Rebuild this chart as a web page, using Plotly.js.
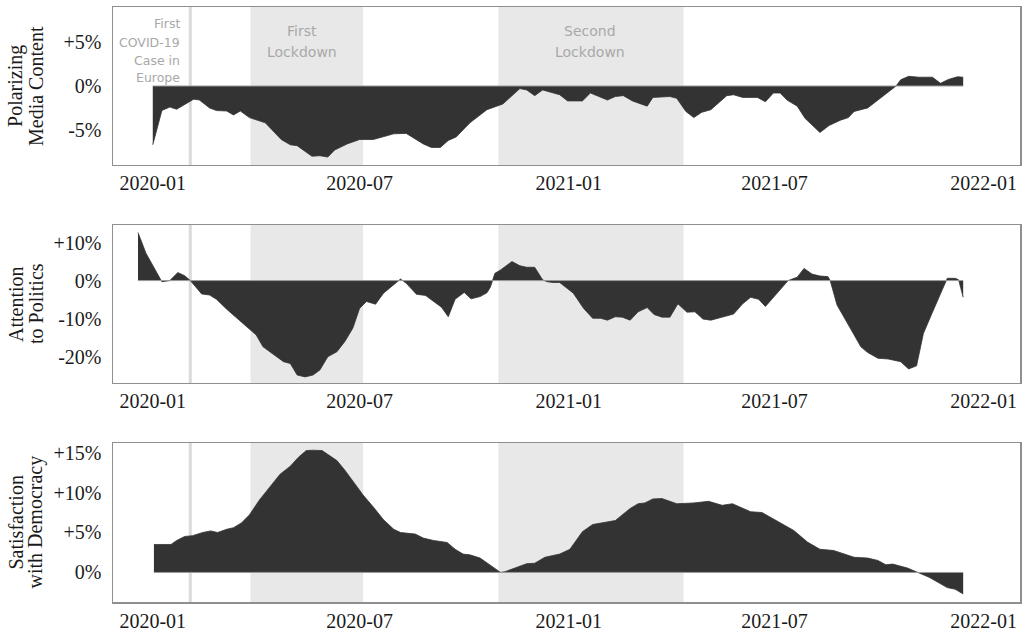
<!DOCTYPE html>
<html>
<head>
<meta charset="utf-8">
<script src="https://cdn.plot.ly/plotly-3.0.1.min.js"></script>
<style>html,body{margin:0;padding:0;background:#fff;}#chart{width:1023px;height:630px;}</style>
</head>
<body>
<div id="chart"></div>
<script>
// ---------- DATA ----------
const polarizingDates = ['2020-01-01','2020-01-09','2020-01-16','2020-01-22','2020-02-06','2020-02-11','2020-02-20','2020-02-26','2020-03-06','2020-03-12','2020-03-18','2020-03-26','2020-04-09','2020-04-23','2020-05-01','2020-05-07','2020-05-20','2020-05-27','2020-06-03','2020-06-09','2020-06-20','2020-07-01','2020-07-13','2020-07-22','2020-07-31','2020-08-11','2020-08-26','2020-09-02','2020-09-10','2020-09-17','2020-09-24','2020-10-06','2020-10-21','2020-11-04','2020-11-19','2020-11-25','2020-12-02','2020-12-09','2020-12-24','2020-12-31','2021-01-13','2021-01-20','2021-02-04','2021-02-11','2021-02-18','2021-02-26','2021-03-11','2021-03-16','2021-03-31','2021-04-06','2021-04-14','2021-04-21','2021-04-28','2021-05-06','2021-05-20','2021-05-26','2021-06-03','2021-06-16','2021-06-23','2021-06-30','2021-07-06','2021-07-12','2021-07-21','2021-07-28','2021-08-10','2021-08-18','2021-08-28','2021-09-04','2021-09-09','2021-09-21','2021-10-02','2021-10-09','2021-10-16','2021-10-20','2021-10-27','2021-11-05','2021-11-17','2021-11-24','2021-12-01','2021-12-09','2021-12-14'];
const polarizing = [-6.7,-2.8,-2.4,-2.65,-1.5,-1.6,-2.5,-2.8,-2.85,-3.3,-2.85,-3.6,-4.2,-6.1,-6.7,-6.8,-8.0,-7.95,-8.1,-7.3,-6.6,-6.1,-6.1,-5.8,-5.45,-5.4,-6.6,-7.0,-7.0,-6.2,-5.8,-4.2,-2.7,-2.05,-0.3,-0.45,-1.1,-0.45,-1.0,-1.7,-1.7,-0.8,-1.6,-1.2,-1.1,-1.7,-2.3,-1.3,-1.2,-1.4,-2.9,-3.6,-3.0,-2.7,-1.1,-1.0,-1.3,-1.3,-1.8,-0.8,-0.8,-1.6,-2.3,-3.7,-5.3,-4.5,-3.9,-3.6,-2.9,-2.5,-1.4,-0.75,0,0.7,1.1,1.0,1.0,0.3,0.75,1.05,1.0];

const attentionDates = ['2019-12-19','2019-12-26','2020-01-09','2020-01-16','2020-01-23','2020-01-29','2020-02-03','2020-02-13','2020-02-20','2020-02-26','2020-03-06','2020-03-18','2020-04-01','2020-04-07','2020-04-19','2020-04-25','2020-05-01','2020-05-07','2020-05-14','2020-05-21','2020-05-27','2020-06-03','2020-06-11','2020-06-18','2020-06-25','2020-07-01','2020-07-07','2020-07-15','2020-07-22','2020-08-06','2020-08-11','2020-08-20','2020-08-28','2020-09-07','2020-09-11','2020-09-17','2020-09-23','2020-10-01','2020-10-07','2020-10-15','2020-10-21','2020-10-24','2020-10-28','2020-11-02','2020-11-12','2020-11-19','2020-11-25','2020-12-02','2020-12-09','2020-12-13','2020-12-18','2020-12-24','2021-01-05','2021-01-14','2021-01-22','2021-01-29','2021-02-04','2021-02-11','2021-02-17','2021-02-24','2021-03-03','2021-03-11','2021-03-17','2021-03-24','2021-03-31','2021-04-07','2021-04-15','2021-04-22','2021-04-29','2021-05-06','2021-05-26','2021-06-03','2021-06-10','2021-06-17','2021-06-23','2021-07-13','2021-07-21','2021-07-27','2021-08-03','2021-08-10','2021-08-17','2021-08-19','2021-08-25','2021-09-15','2021-09-21','2021-09-30','2021-10-09','2021-10-20','2021-10-27','2021-11-03','2021-11-09','2021-11-17','2021-11-23','2021-11-30','2021-12-07','2021-12-10','2021-12-14'];
const attention = [12.6,7.2,-0.3,0,2.1,1.3,0,-3.5,-3.8,-4.9,-7.5,-10.6,-14.3,-17.4,-20,-21.3,-21.8,-24.8,-25.3,-24.8,-23.5,-20,-18.7,-16,-12.5,-7.3,-5.5,-6.2,-3.3,0.4,-0.7,-3.6,-3.9,-6,-7,-9.5,-4.9,-3.1,-4.8,-4.2,-3.2,-1.75,1.9,2.8,5,3.9,3.5,3.5,0.2,-0.3,-0.5,-0.5,-3.3,-7.3,-9.9,-9.9,-10.4,-9.5,-9.6,-10.4,-8.2,-7.1,-8.9,-9.6,-9.6,-6.1,-8.3,-8.2,-10.1,-10.4,-8.8,-6.1,-4.4,-4.9,-6.8,0,0.9,3.2,1.7,1.2,1.05,0,-6.4,-17.4,-18.9,-20.4,-20.6,-21.3,-23.2,-22.4,-13.9,-8.3,-4.4,0.6,0.6,0.2,-4.4];

const satisfactionDates = ['2020-01-02','2020-01-10','2020-01-17','2020-01-22','2020-01-29','2020-02-05','2020-02-14','2020-02-21','2020-02-27','2020-03-06','2020-03-12','2020-03-19','2020-03-26','2020-04-04','2020-04-13','2020-04-22','2020-05-01','2020-05-08','2020-05-15','2020-05-21','2020-05-29','2020-06-03','2020-06-11','2020-06-18','2020-06-25','2020-07-04','2020-07-13','2020-07-22','2020-07-31','2020-08-06','2020-08-19','2020-08-26','2020-09-04','2020-09-16','2020-09-23','2020-09-30','2020-10-06','2020-10-15','2020-10-22','2020-11-02','2020-11-06','2020-11-17','2020-11-25','2020-12-02','2020-12-11','2020-12-24','2021-01-02','2021-01-13','2021-01-22','2021-02-11','2021-02-24','2021-03-03','2021-03-09','2021-03-16','2021-03-24','2021-04-06','2021-04-21','2021-05-04','2021-05-16','2021-05-25','2021-06-10','2021-06-20','2021-07-04','2021-07-18','2021-07-30','2021-08-10','2021-08-22','2021-09-09','2021-09-21','2021-09-30','2021-10-07','2021-10-13','2021-10-26','2021-11-04','2021-11-14','2021-11-30','2021-12-07','2021-12-14'];
const satisfaction = [3.5,3.5,3.5,4.0,4.5,4.6,5.0,5.2,5.0,5.4,5.6,6.2,7.2,9.1,10.75,12.3,13.3,14.4,15.25,15.3,15.25,14.8,14.0,12.8,11.4,9.7,8.2,6.6,5.4,5.0,4.8,4.3,4.0,3.75,2.9,2.3,2.2,1.8,1.1,0,0.1,0.65,1.1,1.15,1.9,2.3,2.9,5.1,6.0,6.5,8.0,8.6,8.7,9.2,9.25,8.6,8.7,8.9,8.4,8.6,7.6,7.5,6.4,5.25,3.8,2.9,2.75,1.9,1.8,1.5,0.95,1.05,0.55,0,-0.6,-1.9,-2.1,-2.7];

const panelTitles = [['Polarizing', 'Media Content'], ['Attention', 'to Politics'], ['Satisfaction', 'with Democracy']];
const xTickVals = ['2020-01-01','2020-07-01','2021-01-01','2021-07-01','2022-01-01'];
const xTickText = ['2020-01','2020-07','2021-01','2021-07','2022-01'];
const y1TickVals = [-5, 0, 5];   const y1TickText = ['-5%', '0%', '+5%'];
const y2TickVals = [-20, -10, 0, 10]; const y2TickText = ['-20%', '-10%', '0%', '+10%'];
const y3TickVals = [0, 5, 10, 15]; const y3TickText = ['0%', '+5%', '+10%', '+15%'];

const firstCaseDate = '2020-02-03';
const lockdownStarts = ['2020-03-27', '2020-10-31'];
const lockdownEnds = ['2020-07-04', '2021-04-12'];
const lockdownLabels = [['First', 'Lockdown'], ['Second', 'Lockdown']];
const firstCaseLabel = ['First', 'COVID-19', 'Case in', 'Europe'];

// ---------- STYLE / LAYOUT ----------
const W = 1023, H = 630;
const M = {l: 113, r: 3, t: 7, b: 28};
const plotW = W - M.l - M.r, plotH = H - M.t - M.b;
const px2paperX = px => (px - M.l) / plotW;
const px2paperY = py => (H - M.b - py) / plotH;

const series = [
  {x: polarizingDates, y: polarizing},
  {x: attentionDates, y: attention},
  {x: satisfactionDates, y: satisfaction}
];
const axSuffix = ['', '2', '3'];
const traces = [];
series.forEach((s, i) => {
  traces.push({
    x: s.x, y: s.y, type: 'scatter', mode: 'lines', fill: 'tozeroy',
    fillcolor: '#333333', line: {color: '#333333', width: 0.8},
    xaxis: 'x' + axSuffix[i], yaxis: 'y' + axSuffix[i], hoverinfo: 'skip'
  });
  traces.push({
    x: [s.x[0], s.x[s.x.length - 1]], y: [0, 0], type: 'scatter', mode: 'lines',
    line: {color: '#9a9a9a', width: 1},
    xaxis: 'x' + axSuffix[i], yaxis: 'y' + axSuffix[i], hoverinfo: 'skip'
  });
});

const serif = 'Liberation Serif, Times New Roman, serif';
const sans = 'DejaVu Sans, Verdana, sans-serif';
const xRange = ['2019-11-27', '2022-02-02'];
function xAxis(anchor) {
  return {
    type: 'date', range: xRange, anchor: anchor,
    tickvals: xTickVals, ticktext: xTickText, ticks: '',
    showgrid: false, zeroline: false, showline: true, mirror: true,
    linecolor: '#8f8f8f', linewidth: 1.5,
    tickfont: {family: serif, size: 20, color: '#1a1a1a'},
    ticklabelstandoff: 0
  };
}
function yAxis(anchor, domain, range, tv, tt) {
  return {
    anchor: anchor, domain: domain, range: range,
    tickvals: tv, ticktext: tt, ticks: '',
    showgrid: false, zeroline: false, showline: true, mirror: true,
    linecolor: '#8f8f8f', linewidth: 1.5,
    tickfont: {family: serif, size: 20, color: '#1a1a1a'},
    ticklabelstandoff: 6
  };
}

const domains = [[0.7345, 1], [0.3681, 0.6336], [0, 0.2672]];
const shapes = [];
const annotations = [];
const titleLineX = [16, 36];
for (let i = 0; i < 3; i++) {
  const xr = 'x' + axSuffix[i];
  const yr = 'y' + axSuffix[i] + ' domain';
  for (let k = 0; k < lockdownStarts.length; k++) {
    shapes.push({type: 'rect', xref: xr, yref: yr, x0: lockdownStarts[k], x1: lockdownEnds[k], y0: 0, y1: 1,
      fillcolor: '#e8e8e8', line: {width: 0}, layer: 'below'});
  }
  shapes.push({type: 'line', xref: xr, yref: yr, x0: firstCaseDate, x1: firstCaseDate, y0: 0, y1: 1,
    line: {color: '#dadada', width: 3}, layer: 'below'});
  panelTitles[i].forEach((t, j) => {
    annotations.push({
      xref: 'paper', yref: 'paper', x: px2paperX(titleLineX[j]), y: (domains[i][0] + domains[i][1]) / 2,
      text: t, showarrow: false, textangle: -90,
      xanchor: 'center', yanchor: 'middle',
      font: {family: serif, size: 20, color: '#1a1a1a'}
    });
  });
}
const caseLineY = [23, 42, 60, 77];
firstCaseLabel.forEach((t, j) => {
  annotations.push({
    xref: 'x', yref: 'paper', x: firstCaseDate, y: px2paperY(caseLineY[j]), xanchor: 'right', yanchor: 'middle', xshift: -8,
    text: t, showarrow: false, align: 'right',
    font: {family: sans, size: 12.5, color: '#a8a8a8'}
  });
});
const lockLineY = [31, 52];
for (let k = 0; k < lockdownStarts.length; k++) {
  const mid = new Date((new Date(lockdownStarts[k]).getTime() + new Date(lockdownEnds[k]).getTime()) / 2);
  lockdownLabels[k].forEach((t, j) => {
    annotations.push({
      xref: 'x', yref: 'paper', x: mid.toISOString().slice(0, 10), y: px2paperY(lockLineY[j]),
      xanchor: 'center', yanchor: 'middle', xshift: k === 0 ? -4 : 0,
      text: t, showarrow: false, align: 'center',
      font: {family: sans, size: 14, color: '#a8a8a8'}
    });
  });
}

const layout = {
  width: W, height: H,
  margin: M,
  paper_bgcolor: '#ffffff', plot_bgcolor: '#ffffff',
  showlegend: false,
  xaxis: xAxis('y'), xaxis2: xAxis('y2'), xaxis3: xAxis('y3'),
  yaxis: yAxis('x', domains[0], [-9, 9], y1TickVals, y1TickText),
  yaxis2: yAxis('x2', domains[1], [-26.9, 14.6], y2TickVals, y2TickText),
  yaxis3: yAxis('x3', domains[2], [-3.7, 16.2], y3TickVals, y3TickText),
  shapes: shapes, annotations: annotations
};
Plotly.newPlot('chart', traces, layout, {staticPlot: true, displayModeBar: false});
</script>
</body>
</html>
